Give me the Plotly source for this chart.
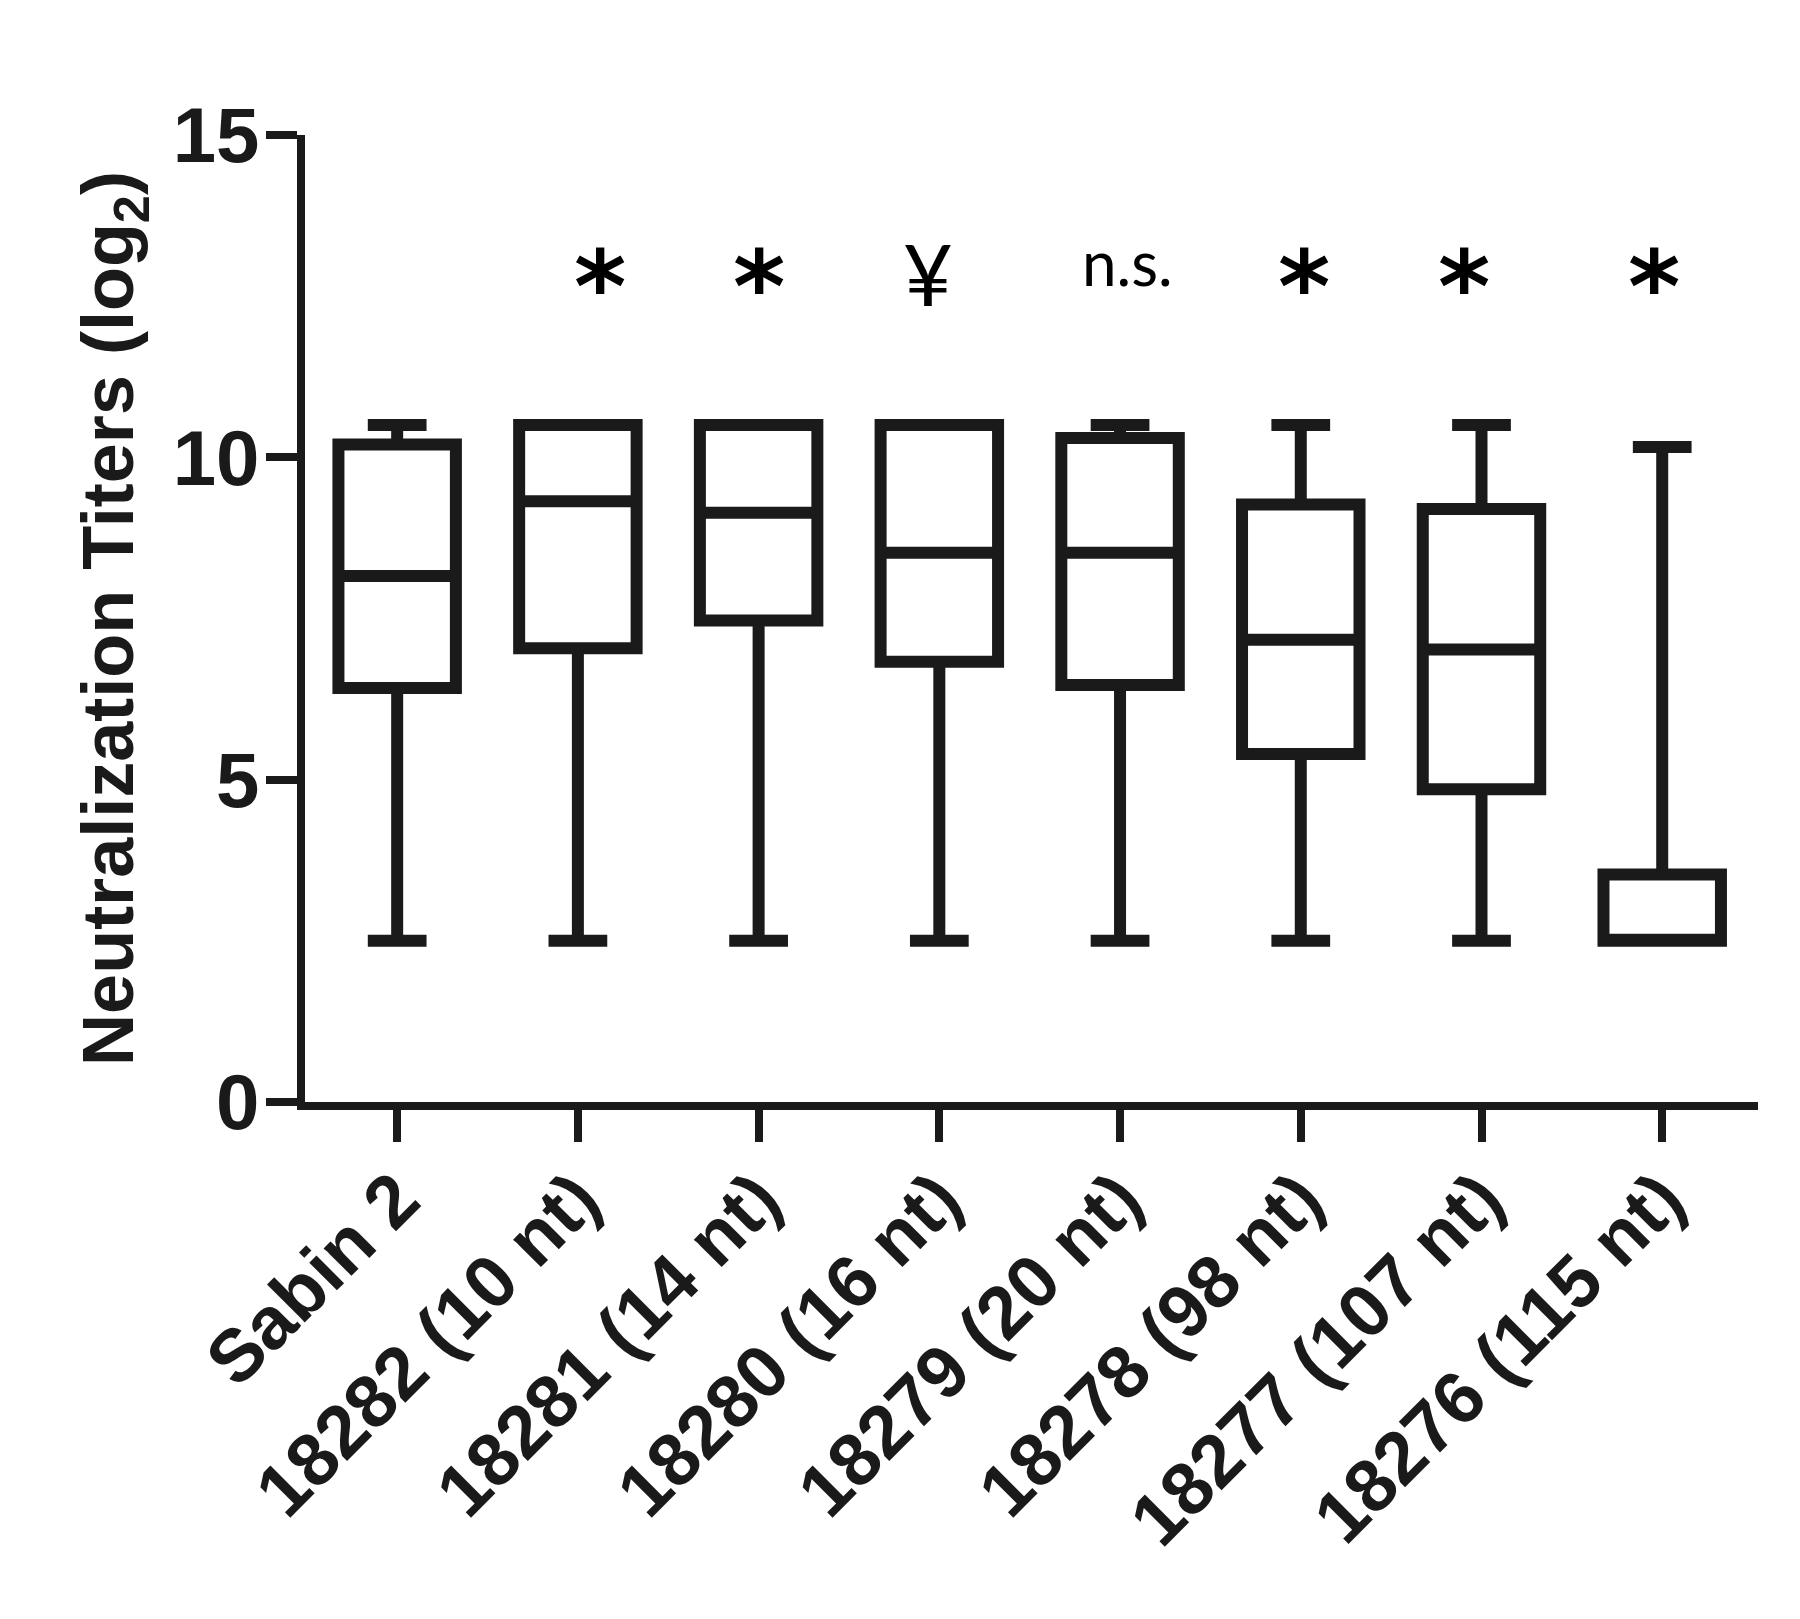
import plotly.graph_objects as go

# grupos e estatísticas (log2)
grupos = ['Sabin 2', '18282 (10 nt)', '18281 (14 nt)', '18280 (16 nt)',
          '18279 (20 nt)', '18278 (98 nt)', '18277 (107 nt)', '18276 (115 nt)']
minimo = [2.5, 2.5, 2.5, 2.5, 2.5, 2.5, 2.5, 2.5]
q1 = [6.42, 7.04, 7.47, 6.83, 6.47, 5.4, 4.85, 2.5]
mediana = [8.16, 9.32, 9.14, 8.52, 8.52, 7.17, 7.02, 2.5]
q3 = [10.2, 10.5, 10.5, 10.5, 10.3, 9.27, 9.2, 3.53]
maximo = [10.5, 10.5, 10.5, 10.5, 10.5, 10.5, 10.5, 10.16]

# marcas de significância
sig = ['', '*', '*', '¥', 'n.s.', '*', '*', '*']
desloc = [0, 22, 0, -11, 7, 3, -18, -8]  # pequeno ajuste horizontal (px)

cor = '#1a1a1a'

fig = go.Figure()
fig.add_trace(go.Box(
    x=grupos,
    q1=q1, median=mediana, q3=q3,
    lowerfence=minimo, upperfence=maximo,
    width=0.65,
    whiskerwidth=0.5,
    fillcolor='white',
    line=dict(color=cor, width=12),
    boxpoints=False,
    hoverinfo='skip',
    showlegend=False,
))

for g, s, dx in zip(grupos, sig, desloc):
    if not s:
        continue
    if s == '*':
        fonte = dict(family='DejaVu Sans', size=100, color='black', weight='bold')
        y = 11.7
    elif s == '¥':
        fonte = dict(family='Lato', size=86, color='black')
        y = 12.04
    else:
        fonte = dict(family='Lato', size=62, color='black')
        y = 12.43
    fig.add_annotation(x=g, y=y, text=s, showarrow=False, font=fonte,
                       yanchor='bottom', xanchor='center', xshift=dx)

fig.update_layout(
    width=1800, height=1619,
    paper_bgcolor='white', plot_bgcolor='white',
    margin=dict(l=297, r=50, t=127, b=525),
    font=dict(family='Liberation Sans', color=cor),
)

fig.update_xaxes(
    type='category',
    range=[-0.51, 7.53],
    showline=True, linecolor=cor, linewidth=8,
    ticks='outside', ticklen=32, tickwidth=8, tickcolor=cor,
    tickangle=-45,
    ticklabelstandoff=-16,
    tickfont=dict(family='Liberation Sans', size=74, color=cor, weight='bold'),
    showgrid=False, zeroline=False,
)

fig.update_yaxes(
    range=[0, 15],
    tickvals=[0, 5, 10, 15],
    showline=True, linecolor=cor, linewidth=8,
    ticks='outside', ticklen=31, tickwidth=8, tickcolor=cor,
    ticklabelstandoff=-9,
    tickfont=dict(family='Liberation Sans', size=78, color=cor, weight='bold'),
    title=dict(text='Neutralization Titers (log<sub>2</sub>)',
               font=dict(family='Liberation Sans', size=72, color=cor, weight='bold'),
               standoff=18),
    showgrid=False, zeroline=False,
)

fig.write_html('out.html')
